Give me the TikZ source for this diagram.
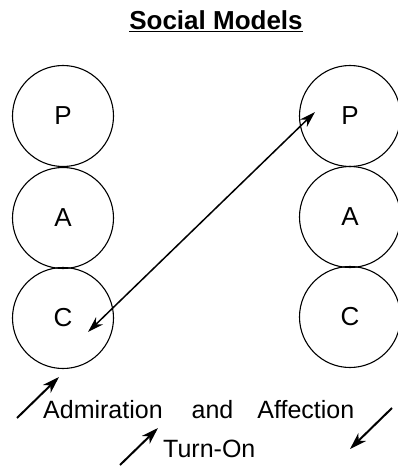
\documentclass[tikz,border=0pt]{standalone}
\usepackage{fontspec}
\setmainfont{Liberation Sans}
\usetikzlibrary{arrows.meta}
\begin{document}
\begin{tikzpicture}[x=1pt,y=-1pt,
  ego/.style={circle,draw,line width=1.1pt,minimum size=101pt,inner sep=0pt,
    font=\fontsize{26}{30}\selectfont},
  lbl/.style={inner sep=0pt,anchor=base west,font=\fontsize{25}{29}\selectfont},
  tip/.style={Stealth[length=17pt,width=11pt,inset=5pt]},
  arr/.style={line width=2pt,-{Stealth[length=17pt,width=11pt,inset=5pt]}}]
\useasboundingbox (0,0) rectangle (398,468);
% title
\node[inner sep=0pt,anchor=base,font=\bfseries\fontsize{26}{30}\selectfont] (title) at (216,30)
  {\underline{Social Models}};
% left ego states
\node[ego] (lP) at (63,116) {P};
\node[ego] (lA) at (63,218) {A};
\node[ego] (lC) at (63,318) {C};
% right ego states
\node[ego] (rP) at (350,116) {P};
\node[ego] (rA) at (350,217) {A};
\node[ego] (rC) at (350,317) {C};
% transaction between the two
\draw[line width=1.5pt,{Stealth[length=16pt,width=10pt,inset=5pt]}-{Stealth[length=16pt,width=10pt,inset=5pt]}]
  ([shift={(25,14)}]lC.center) -- ([shift={(-35,-4)}]rP.center);
% strokes
\node[lbl] (adm) at (43,418) {Admiration\hspace{29pt}and\hspace{24pt}Affection};
\node[lbl] (turn) at (163,457) {Turn-On};
\coordinate (a1s) at (17,418); \coordinate (a1e) at (59,377);
\coordinate (a2s) at (120,465); \coordinate (a2e) at (158,428);
\coordinate (a3s) at (392,408); \coordinate (a3e) at (350,449);
\draw[arr] (a1s) -- (a1e);
\draw[arr] (a2s) -- (a2e);
\draw[arr] (a3s) -- (a3e);
\end{tikzpicture}
\end{document}
